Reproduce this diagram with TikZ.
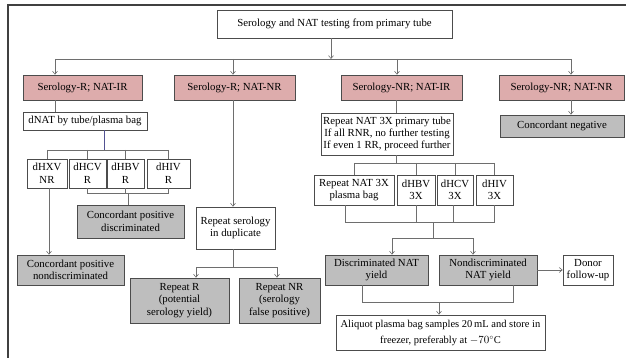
\documentclass[tikz,border=0pt]{standalone}
\usepackage{fontspec}
\setmainfont{Liberation Serif}
\usetikzlibrary{arrows.meta}
\definecolor{pinkbox}{RGB}{221,172,172}
\definecolor{greybox}{RGB}{190,190,190}
\definecolor{edge}{RGB}{110,110,110}

\begin{document}
\begin{tikzpicture}[x=1pt,y=-1pt,>/.tip={Straight Barb[length=3pt,width=5pt]},
	font=\fontsize{10.8}{12.5}\selectfont,
	box/.style={draw=black!70,fill=white,inner sep=0pt,align=center,line width=0.7pt},
	resbox/.style={box,fill=pinkbox},
	endbox/.style={box,fill=greybox},
	link/.style={draw=edge,line width=0.6pt}]
	\useasboundingbox (0,0) rectangle (626,358);
	\draw [black!75,line width=1.2pt] (8,358) -- (8,5) -- (626,5);
	% boxes
	\node (top) [box,minimum width=235pt,minimum height=28pt] at (334.5,24) {Serology and NAT testing from primary tube};
	\node (sRI) [resbox,minimum width=119pt,minimum height=25pt] at (82.5,87.5) {Serology-R; NAT-IR};
	\node (sRNR) [resbox,minimum width=121pt,minimum height=25pt] at (234.5,87.5) {Serology-R; NAT-NR};
	\node (sNRI) [resbox,minimum width=121pt,minimum height=25pt] at (401.5,87.5) {Serology-NR; NAT-IR};
	\node (sNRNR) [resbox,minimum width=125pt,minimum height=25pt] at (561.5,87.5) {Serology-NR; NAT-NR};
	\node (dnat) [box,minimum width=124pt,minimum height=18pt] at (85,121) {dNAT by tube/plasma bag};
	\node (dhxv) [box,minimum width=40pt,minimum height=29pt] at (47,173.5) {dHXV\\NR};
	\node (dhcv) [box,minimum width=37pt,minimum height=29pt] at (87.5,173.5) {dHCV\\R};
	\node (dhbv) [box,minimum width=37pt,minimum height=29pt] at (125.5,173.5) {dHBV\\R};
	\node (dhiv) [box,minimum width=43pt,minimum height=29pt] at (168.5,173.5) {dHIV\\R};
	\node (cpd) [endbox,minimum width=107pt,minimum height=33pt] at (130.5,221.5) {Concordant positive\\discriminated};
	\node (cpn) [endbox,minimum width=107pt,minimum height=30pt] at (70.5,270) {Concordant positive\\nondiscriminated};
	\node (rsd) [box,minimum width=79pt,minimum height=42pt] at (235.5,228) {Repeat serology\\in duplicate};
	\node (rr) [endbox,minimum width=99pt,minimum height=45pt] at (179.5,300.5) {Repeat R\\(potential\\serology yield)};
	\node (rnr) [endbox,minimum width=81pt,minimum height=45pt] at (279.5,300.5) {Repeat NR\\(serology\\false positive)};
	\node (rnat) [box,minimum width=132pt,minimum height=42pt,font=\fontsize{10.8}{12}\selectfont] at (387,134) {Repeat NAT 3X primary tube\\If all RNR, no further testing\\If even 1 RR, proceed further};
	\node (cneg) [endbox,minimum width=124pt,minimum height=22pt] at (562,126) {Concordant negative};
	\node (rpb) [box,minimum width=80pt,minimum height=30pt] at (354,190) {Repeat NAT 3X\\plasma bag};
	\node (dhbv3) [box,minimum width=38pt,minimum height=30pt] at (416,190) {dHBV\\3X};
	\node (dhcv3) [box,minimum width=36pt,minimum height=30pt] at (455,190) {dHCV\\3X};
	\node (dhiv3) [box,minimum width=37pt,minimum height=30pt] at (494.5,190) {dHIV\\3X};
	\node (dny) [endbox,minimum width=103pt,minimum height=30pt] at (376.5,270) {Discriminated NAT\\yield};
	\node (nny) [endbox,minimum width=98pt,minimum height=30pt] at (488,270) {Nondiscriminated\\NAT yield};
	\node (donor) [box,minimum width=50pt,minimum height=30pt] at (588,270) {Donor\\follow-up};
	\node (aliq) [box,minimum width=209pt,minimum height=35pt,font=\fontsize{10.5}{16}\selectfont] at (440.5,332.5) {Aliquot plasma bag samples 20\,mL and store in\\freezer, preferably at $-70^{\circ}$C};
	% bus points
	\coordinate (k1) at (55,59);
	\coordinate (k2) at (233,59);
	\coordinate (k3) at (397,59);
	\coordinate (k4) at (571,59);
	\coordinate (d1) at (104,150);
	\coordinate (d2) at (128,193);
	\coordinate (d3) at (49,188);
	\coordinate (r1) at (233,267);
	\coordinate (n1) at (396,163);
	\coordinate (n2) at (433,222);
	\coordinate (n3) at (433,238);
	\coordinate (n4) at (439,302);
	% connectors
	\draw [link,->] (top.south -| 331,0) -- (331,59);
	\draw [link] (k1) -- (k4);
	\draw [link,->] (k1) -- (k1 |- sRI.north);
	\draw [link,->] (k2) -- (k2 |- sRNR.north);
	\draw [link,->] (k3) -- (k3 |- sNRI.north);
	\draw [link,->] (k4) -- (k4 |- sNRNR.north);
	\draw [link] (sRI.south -| k1) -- (dnat.north -| k1);
	\draw [link,draw=blue!25!edge] (dnat.south -| d1) -- (d1);
	\draw [link] (dhxv.north |- d1) -- (dhiv.north |- d1);
	\foreach \n in {dhxv,dhcv,dhbv,dhiv}
		\draw [link] (\n.north |- d1) -- (\n.north);
	\draw [link] (dhcv.south) -- (dhcv.south |- d2) -- (dhiv.south |- d2) -- (dhiv.south);
	\draw [link] (dhbv.south) -- (dhbv.south |- d2);
	\draw [link] (d2) -- (d2 |- cpd.north);
	\draw [link,->] (d3) -- (d3 |- cpn.north);
	\draw [link,->] (sRNR.south -| k2) -- (rsd.north -| k2);
	\draw [link] (rsd.south -| r1) -- (r1);
	\draw [link,->] (r1) -| (rr.north -| 196,0);
	\draw [link,->] (r1) -| (rnr.north -| 277,0);
	\draw [link] (sNRI.south -| n1) -- (rnat.north -| n1);
	\draw [link] (rnat.south -| n1) -- (n1);
	\draw [link] (rpb.north |- n1) -- (dhiv3.north |- n1);
	\foreach \n in {rpb,dhbv3,dhcv3,dhiv3}
		\draw [link] (\n.north |- n1) -- (\n.north);
	\draw [link] (rpb.south -| 345,0) -- (345,222) -- (dhiv3.south |- n2) -- (dhiv3.south);
	\draw [link] (dhbv3.south) -- (dhbv3.south |- n2);
	\draw [link] (dhcv3.south -| 453,0) -- (453,222);
	\draw [link] (n2) -- (n3);
	\draw [link,->] (n3) -| (dny.north -| 392,0);
	\draw [link,->] (n3) -| (nny.north -| 473,0);
	\draw [link,->] (nny) -- (donor);
	\draw [link] (dny.south -| 362,0) -- (362,302) -- (513,302) -- (nny.south -| 513,0);
	\draw [link,->] (n4) -- (aliq.north -| n4);
	\draw [link,->] (sNRNR.south -| k4) -- (cneg.north -| k4);
\end{tikzpicture}
\end{document}
